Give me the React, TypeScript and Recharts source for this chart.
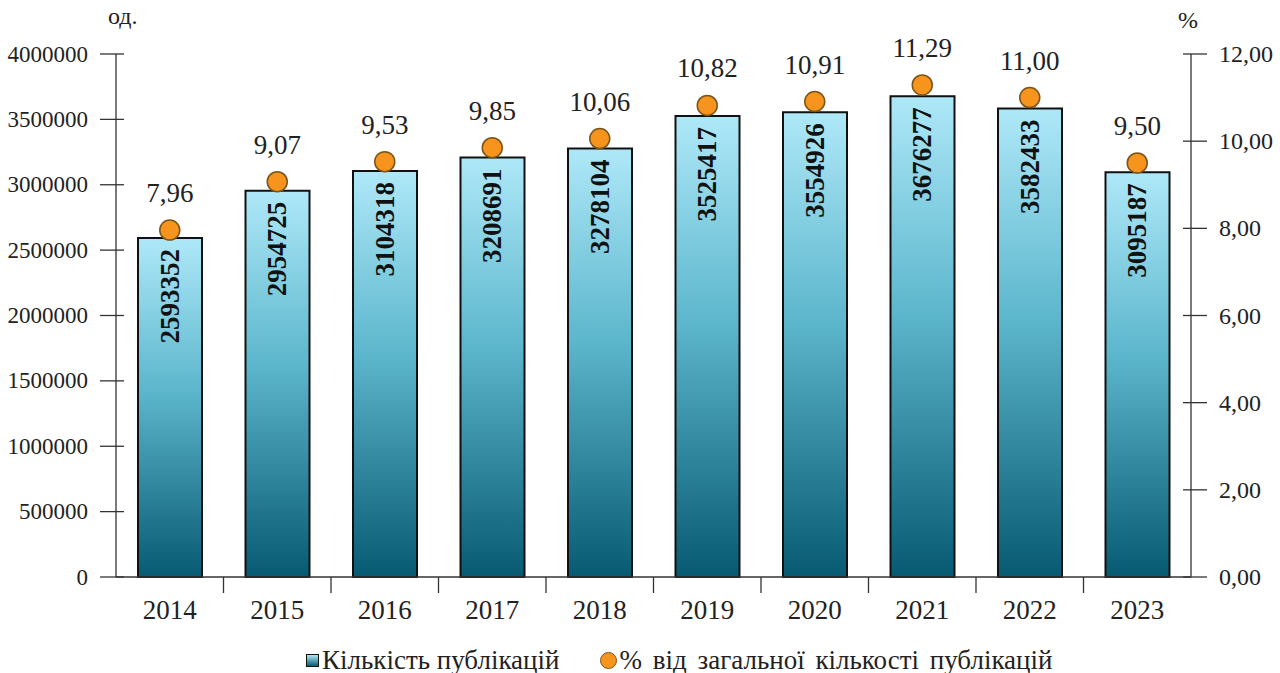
import {
  ComposedChart,
  Bar,
  Line,
  XAxis,
  YAxis,
  LabelList,
} from "recharts";

// роки
const YEARS = ["2014", "2015", "2016", "2017", "2018", "2019", "2020", "2021", "2022", "2023"];
// кількість публікацій
const COUNTS = [2593352, 2954725, 3104318, 3208691, 3278104, 3525417, 3554926, 3676277, 3582433, 3095187];
// % від загальної кількості
const SHARES = [7.96, 9.07, 9.53, 9.85, 10.06, 10.82, 10.91, 11.29, 11.0, 9.5];

const LEFT_TICKS = [0, 500000, 1000000, 1500000, 2000000, 2500000, 3000000, 3500000, 4000000];
const RIGHT_TICKS = [0, 2, 4, 6, 8, 10, 12];

const FONT = "Liberation Serif";
const TEXT = "#222";

const data = YEARS.map((year, i) => ({
  year,
  count: COUNTS[i],
  share: SHARES[i],
}));

const fmtPct = (v: number) => v.toFixed(2).replace(".", ",");

// eslint-disable-next-line @typescript-eslint/no-explicit-any
const LeftTick = ({ x, y, payload }: any) => (
  <g>
    <line x1={x - 8} x2={x + 16} y1={y} y2={y} stroke="#333" strokeWidth={1.3} />
    <text x={x - 20} y={y} textAnchor="end" dominantBaseline="central" fontFamily={FONT} fontSize={23} fill={TEXT}>
      {payload.value}
    </text>
  </g>
);

// eslint-disable-next-line @typescript-eslint/no-explicit-any
const RightTick = ({ x, y, payload }: any) => (
  <g>
    <line x1={x - 16} x2={x + 8} y1={y} y2={y} stroke="#333" strokeWidth={1.3} />
    <text x={x + 20} y={y} textAnchor="start" dominantBaseline="central" fontFamily={FONT} fontSize={24} fill={TEXT}>
      {fmtPct(payload.value)}
    </text>
  </g>
);

// підпис року + риска між категоріями
// eslint-disable-next-line @typescript-eslint/no-explicit-any
const YearTick = ({ x, y, payload, index }: any) => {
  const half = 107.5 / 2;
  return (
    <g>
      {index < YEARS.length - 1 && (
        <line x1={x + half} x2={x + half} y1={y - 8} y2={y + 8} stroke="#333" strokeWidth={1.3} />
      )}
      <text x={x} y={y + 25} textAnchor="middle" dominantBaseline="central" fontFamily={FONT} fontSize={27} fill={TEXT}>
        {payload.value}
      </text>
    </g>
  );
};

// вертикальний підпис у стовпчику
// eslint-disable-next-line @typescript-eslint/no-explicit-any
const BarValue = ({ x, y, width, value }: any) => {
  const cx = x + width / 2;
  const ty = y + 11;
  return (
    <text
      x={cx}
      y={ty}
      transform={`rotate(-90 ${cx} ${ty})`}
      textAnchor="end"
      dominantBaseline="central"
      fontFamily={FONT}
      fontSize={27}
      fontWeight="bold"
      fill="#111">
      {value}
    </text>
  );
};

// eslint-disable-next-line @typescript-eslint/no-explicit-any
const DotValue = ({ x, y, value }: any) => (
  <text x={x} y={y - 37} textAnchor="middle" dominantBaseline="central" fontFamily={FONT} fontSize={27} fill={TEXT}>
    {fmtPct(value)}
  </text>
);

export default function App() {
  return (
    <div style={{ position: "absolute", left: 0, top: 0, width: 1280, height: 673, background: "#fff" }}>
      <ComposedChart
        width={1280}
        height={673}
        data={data}
        margin={{ top: 54, right: 0, left: 0, bottom: 56 }}>
        <defs>
          <linearGradient id="barGrad" x1="0" y1="0" x2="0" y2="1">
            <stop offset="0%" stopColor="#aee8f8" />
            <stop offset="45%" stopColor="#5cb6cc" />
            <stop offset="100%" stopColor="#075a72" />
          </linearGradient>
        </defs>

        <XAxis
          dataKey="year"
          xAxisId="x"
          height={40}
          axisLine={{ stroke: "#333", strokeWidth: 1.3 }}
          tickLine={false}
          tick={<YearTick />}
          interval={0}
        />
        <YAxis
          yAxisId="left"
          width={116}
          domain={[0, 4000000]}
          ticks={LEFT_TICKS}
          interval={0}
          axisLine={{ stroke: "#333", strokeWidth: 1.3 }}
          tickLine={false}
          tick={<LeftTick />}
        />
        <YAxis
          yAxisId="right"
          orientation="right"
          width={89}
          domain={[0, 12]}
          ticks={RIGHT_TICKS}
          interval={0}
          axisLine={{ stroke: "#333", strokeWidth: 1.3 }}
          tickLine={false}
          tick={<RightTick />}
        />

        <Bar
          dataKey="count"
          xAxisId="x"
          yAxisId="left"
          barSize={64}
          fill="url(#barGrad)"
          stroke="#111"
          strokeWidth={2}
          isAnimationActive={false}>
          <LabelList dataKey="count" content={<BarValue />} />
        </Bar>

        <Line
          dataKey="share"
          xAxisId="x"
          yAxisId="right"
          stroke="none"
          dot={{ r: 10, fill: "#f7941d", stroke: "#7a5418", strokeWidth: 1.5 }}
          activeDot={false}
          isAnimationActive={false}>
          <LabelList dataKey="share" content={<DotValue />} />
        </Line>
      </ComposedChart>

      {/* легенда */}
      <div
        style={{
          position: "absolute",
          top: 645,
          left: 306,
          display: "flex",
          gap: 40,
          fontFamily: FONT,
          fontSize: 27,
          color: TEXT,
          lineHeight: "30px",
          whiteSpace: "nowrap",
        }}>
        <span style={{ display: "flex", alignItems: "center" }}>
          <span
            style={{
              width: 11,
              height: 11,
              border: "1px solid #111",
              background: "linear-gradient(#aee8f8, #075a72)",
              marginRight: 3,
            }}
          />
          Кількість публікацій
        </span>
        <span style={{ display: "flex", alignItems: "center", wordSpacing: 4 }}>
          <span
            style={{
              width: 15,
              height: 15,
              borderRadius: "50%",
              background: "#f7941d",
              border: "1px solid #7a5418",
              marginRight: 3,
            }}
          />
          % від загальної кількості публікацій
        </span>
      </div>

      <div style={{ position: "absolute", left: 108, top: 3, fontFamily: FONT, fontSize: 24, color: TEXT }}>од.</div>
      <div style={{ position: "absolute", left: 1178, top: 7, fontFamily: FONT, fontSize: 24, color: TEXT }}>%</div>
    </div>
  );
}
